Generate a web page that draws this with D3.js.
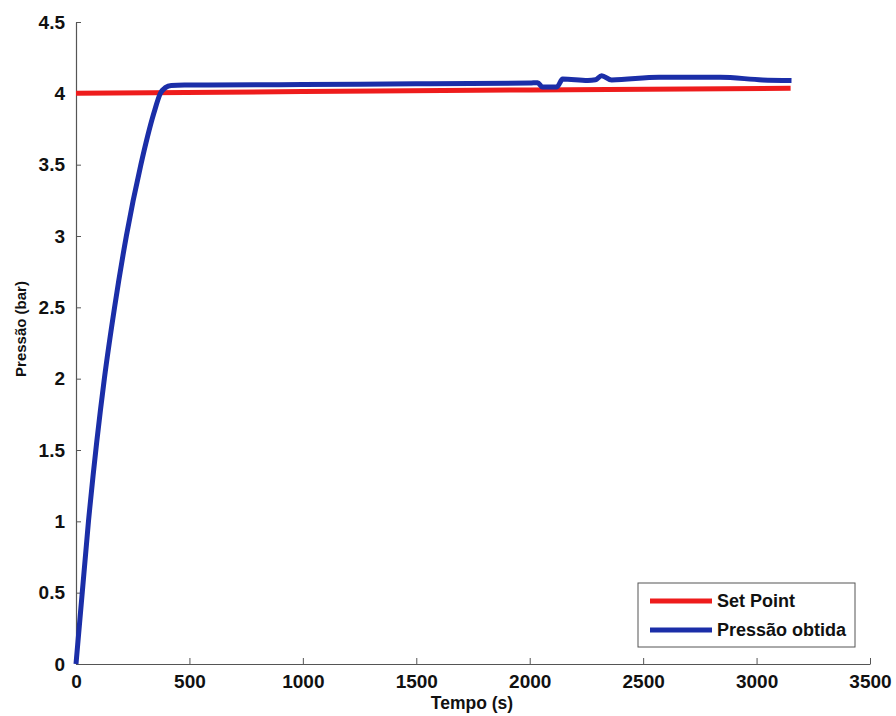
<!DOCTYPE html>
<html><head><meta charset="utf-8">
<script src="https://cdn.jsdelivr.net/npm/d3@7"></script>
<style>
body{margin:0;background:#fff;}
text{font-family:"Liberation Sans",Arial,sans-serif;font-weight:bold;fill:#111;}
</style></head>
<body><svg id="c" width="896" height="716"></svg>
<script>
const xTicks = [0, 500, 1000, 1500, 2000, 2500, 3000, 3500];
const yTicks = [0, 0.5, 1, 1.5, 2, 2.5, 3, 3.5, 4, 4.5];
const setPointT = [0, 1000, 2000, 3150];
const setPointV = [4.0, 4.012, 4.024, 4.035];
const pressaoT = [0, 55, 125, 170, 222, 286, 343, 372, 394, 420, 478, 800, 1000, 1500, 2000, 2035, 2055, 2120, 2145, 2256, 2290, 2317, 2361, 2570, 2840, 3026, 3154];
const pressaoV = [0, 1.0, 2.0, 2.5, 3.0, 3.5, 3.86, 4.0, 4.04, 4.055, 4.058, 4.06, 4.062, 4.067, 4.072, 4.075, 4.045, 4.045, 4.10, 4.09, 4.095, 4.124, 4.094, 4.113, 4.113, 4.094, 4.09];
const seriesNames = ["Set Point", "Pressão obtida"];
const colors = ["#ee1c1c", "#1b2ea8"];

const svg = d3.select("#c");
const x = d3.scaleLinear().domain([0, 3500]).range([76, 870]);
const y = d3.scaleLinear().domain([0, 4.5]).range([664, 22]);

// axes
const xAxis = d3.axisBottom(x).tickValues(xTicks).tickSizeInner(-6).tickSizeOuter(0).tickPadding(11).tickFormat(d3.format("d"));
const yAxis = d3.axisLeft(y).tickValues(yTicks).tickSizeInner(-5).tickSizeOuter(0).tickPadding(11).tickFormat(d => d);
const gx = svg.append("g").attr("transform", `translate(0,${y(0)})`).call(xAxis);
const gy = svg.append("g").attr("transform", `translate(${x(0)},0)`).call(yAxis);
[gx, gy].forEach(g => {
  g.select(".domain").attr("stroke", "#555").attr("stroke-width", 1.2);
  g.selectAll(".tick line").attr("stroke", "#555");
  g.selectAll(".tick text").style("font-size", "19px").style("font-family", "'Liberation Sans',Arial,sans-serif").style("font-weight", "bold").attr("fill", "#111");
});
gx.selectAll(".tick text").attr("dy", "0.68em");

// titles
svg.append("text").attr("x", 472).attr("y", 709).attr("text-anchor", "middle").style("font-size", "17.5px").text("Tempo (s)");
svg.append("text").attr("transform", "translate(26,329) rotate(-90)").attr("text-anchor", "middle").style("font-size", "15px").text("Pressão (bar)");

const line = d3.line().x(d => x(d[0])).y(d => y(d[1])).curve(d3.curveMonotoneX);
const sp = setPointT.map((t, i) => [t, setPointV[i]]);
const pr = pressaoT.map((t, i) => [t, pressaoV[i]]);
svg.append("path").datum(sp).attr("d", line).attr("fill", "none").attr("stroke", colors[0]).attr("stroke-width", 5);
svg.append("path").datum(pr).attr("d", line).attr("fill", "none").attr("stroke", colors[1]).attr("stroke-width", 5).attr("stroke-linejoin", "round");

// legend
const lg = svg.append("g");
lg.append("rect").attr("x", 638).attr("y", 583).attr("width", 217).attr("height", 64).attr("fill", "#fff").attr("stroke", "#555").attr("stroke-width", 1);
seriesNames.forEach((n, i) => {
  const yy = 601 + i * 29;
  lg.append("line").attr("x1", 650).attr("x2", 712).attr("y1", yy).attr("y2", yy).attr("stroke", colors[i]).attr("stroke-width", 5);
  lg.append("text").attr("x", 717).attr("y", yy).attr("dy", "0.35em").style("font-size", "18px").text(n);
});
</script></body></html>
